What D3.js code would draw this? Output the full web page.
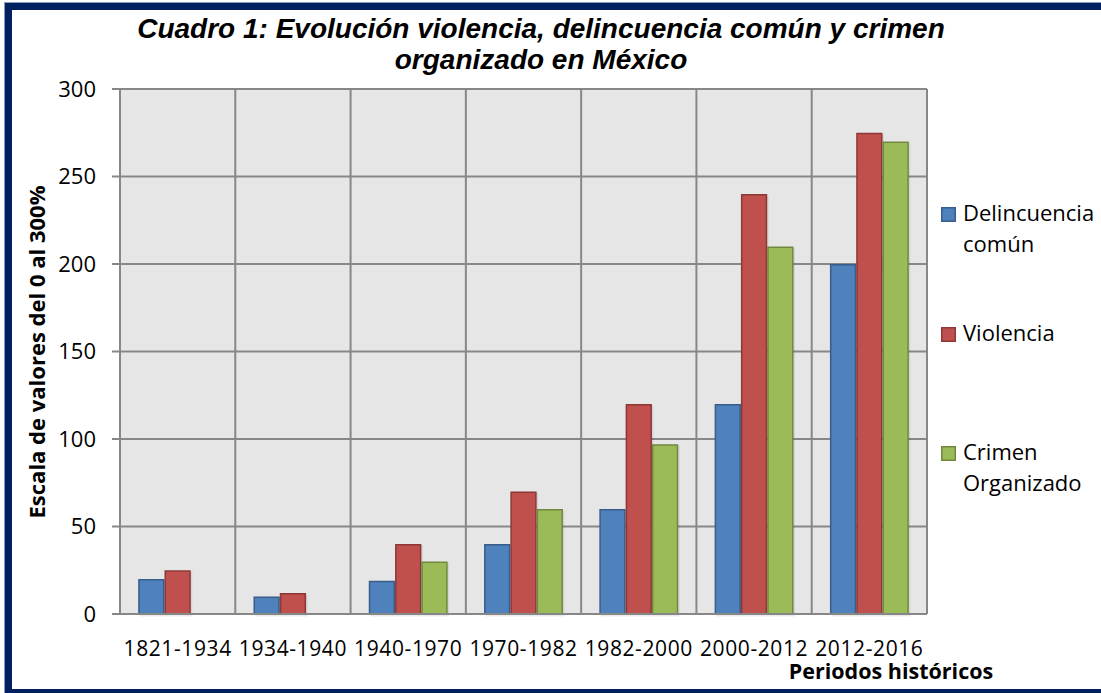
<!DOCTYPE html>
<html>
<head>
<meta charset="utf-8">
<script src="https://cdn.jsdelivr.net/npm/d3@7"></script>
<style>
  html, body { margin: 0; padding: 0; background: #ffffff; }
  svg { display: block; }
</style>
</head>
<body>
<svg id="chart" width="1101" height="693"></svg>
<script>
const categories = ["1821-1934", "1934-1940", "1940-1970", "1970-1982", "1982-2000", "2000-2012", "2012-2016"];
const seriesNames = ["Delincuencia común", "Violencia", "Crimen Organizado"];
const delincuencia = [20, 10, 19, 40, 60, 120, 200];
const violencia = [25, 12, 40, 70, 120, 240, 275];
const crimen = [null, null, 30, 60, 97, 210, 270];
const yTicks = [0, 50, 100, 150, 200, 250, 300];
const titleLines = ["Cuadro 1: Evolución violencia, delincuencia común y crimen", "organizado en México"];
const yTitle = "Escala de valores del 0 al 300%";
const xTitle = "Periodos históricos";
const legendLines = [["Delincuencia", "común"], ["Violencia"], ["Crimen", "Organizado"]];

const fills = ["#4f81bd", "#c0504d", "#9bbb59"];
const strokes = ["#385d8a", "#8c3836", "#71893f"];
const seriesData = [delincuencia, violencia, crimen];

const svg = d3.select("#chart");
const plot = { left: 120, right: 927, top: 89, bottom: 614 };

// frame
svg.append("rect")
  .attr("x", 8.5).attr("y", 6.5).attr("width", 1300).attr("height", 686)
  .attr("fill", "none").attr("stroke", "#002060").attr("stroke-width", 7);
svg.append("rect")
  .attr("x", 4.5).attr("y", 2.5).attr("width", 1300).attr("height", 694)
  .attr("fill", "none").attr("stroke", "#8a9bbd").attr("stroke-width", 1);

const x0 = d3.scaleBand().domain(categories).range([plot.left, plot.right]).paddingInner(0).paddingOuter(0);
const groupPad = 18.2;
const x1 = d3.scaleBand().domain(d3.range(3)).range([groupPad, x0.bandwidth() - groupPad]).padding(0);
const y = d3.scaleLinear().domain([0, 300]).range([plot.bottom, plot.top]);

// background
svg.append("rect")
  .attr("x", plot.left).attr("y", plot.top)
  .attr("width", plot.right - plot.left).attr("height", plot.bottom - plot.top)
  .attr("fill", "#e6e6e6");

const gridColor = "#878787";
svg.append("g").selectAll("line").data(yTicks).join("line")
  .attr("x1", plot.left - 8).attr("x2", plot.right)
  .attr("y1", d => y(d)).attr("y2", d => y(d))
  .attr("stroke", gridColor).attr("stroke-width", 2);
const bounds = categories.map(c => x0(c)).concat([plot.right]);
svg.append("g").selectAll("line").data(bounds).join("line")
  .attr("x1", d => d).attr("x2", d => d)
  .attr("y1", plot.top).attr("y2", plot.bottom)
  .attr("stroke", gridColor).attr("stroke-width", 2);

// bar shadows (subtle)
const groups = svg.append("g").selectAll("g").data(categories).join("g")
  .attr("transform", c => `translate(${x0(c)},0)`);
const barData = (c, i) => seriesData.map((s, k) => ({ k, v: s[i] })).filter(d => d.v != null);
groups.selectAll("rect.shadow")
  .data(barData)
  .join("rect")
  .attr("class", "shadow")
  .attr("x", d => x1(d.k) + 1.5)
  .attr("width", x1.bandwidth())
  .attr("y", d => y(d.v) + 1.5)
  .attr("height", d => y(0) - y(d.v) + 1)
  .attr("fill", "#000").attr("opacity", 0.08);
groups.selectAll("rect.bar")
  .data(barData)
  .join("rect")
  .attr("class", "bar")
  .attr("x", d => x1(d.k) + 0.75)
  .attr("width", x1.bandwidth() - 1.5)
  .attr("y", d => y(d.v) + 0.75)
  .attr("height", d => y(0) - y(d.v) - 0.75)
  .attr("fill", d => fills[d.k])
  .attr("stroke", d => strokes[d.k])
  .attr("stroke-width", 1.5);

svg.append("line")
  .attr("x1", plot.left - 8).attr("x2", plot.right)
  .attr("y1", y(0)).attr("y2", y(0))
  .attr("stroke", gridColor).attr("stroke-width", 2);

const tickFont = "'Open Sans', 'DejaVu Sans', sans-serif";
svg.append("g").selectAll("text").data(yTicks).join("text")
  .attr("x", 96).attr("y", d => y(d))
  .attr("dy", "0.36em")
  .attr("text-anchor", "end")
  .attr("font-family", tickFont).attr("font-size", 22)
  .attr("fill", "#000").text(d => d);

svg.append("g").selectAll("text").data(categories).join("text")
  .attr("x", c => x0(c) + x0.bandwidth() / 2).attr("y", 656)
  .attr("text-anchor", "middle")
  .attr("font-family", tickFont).attr("font-size", 21)
  .attr("letter-spacing", 0.6)
  .attr("fill", "#000").text(c => c);

svg.append("g").selectAll("text").data(titleLines).join("text")
  .attr("x", 541).attr("y", (d, i) => 38 + i * 31)
  .attr("text-anchor", "middle")
  .attr("font-family", "'Liberation Sans', Arial, sans-serif")
  .attr("font-weight", "bold").attr("font-style", "italic")
  .attr("font-size", 28)
  .attr("fill", "#000").text(d => d);

svg.append("text")
  .attr("transform", "translate(45,352) rotate(-90)")
  .attr("text-anchor", "middle")
  .attr("font-family", tickFont).attr("font-weight", "bold").attr("font-size", 22)
  .attr("fill", "#000").text(yTitle);

svg.append("text")
  .attr("x", 891).attr("y", 679)
  .attr("text-anchor", "middle")
  .attr("font-family", tickFont).attr("font-weight", "bold").attr("font-size", 21.5)
  .attr("fill", "#000").text(xTitle);

const legendTops = [207, 327, 446];
const lg = svg.append("g").selectAll("g").data(seriesNames).join("g")
  .attr("transform", (d, i) => `translate(941,${legendTops[i]})`);
lg.append("rect")
  .attr("x", 0.75).attr("y", 0.75).attr("width", 13.5).attr("height", 13.5)
  .attr("fill", (d, i) => fills[i]).attr("stroke", (d, i) => strokes[i]).attr("stroke-width", 1.5);
lg.each(function(d, i) {
  d3.select(this).selectAll("text").data(legendLines[i]).join("text")
    .attr("x", 22).attr("y", (t, j) => 14 + j * 31)
    .attr("font-family", tickFont).attr("font-size", 22)
    .attr("fill", "#000").text(t => t);
});
</script>
</body>
</html>
